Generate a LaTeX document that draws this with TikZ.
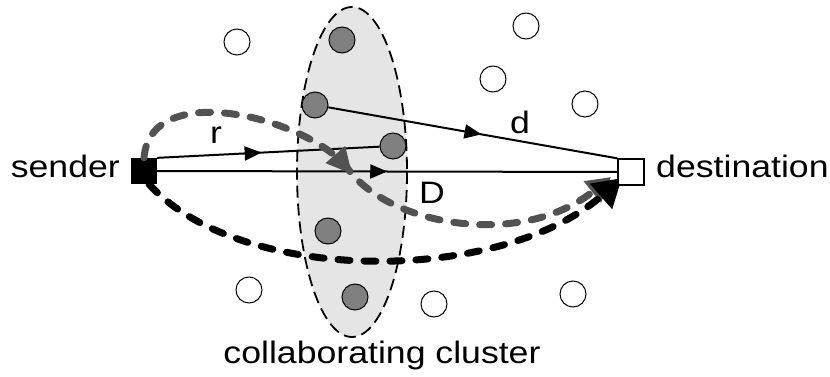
\documentclass[tikz,border=0pt]{standalone}
\usepackage{fontspec}
\setmainfont[FakeStretch=1.15]{Liberation Sans}
\usetikzlibrary{arrows.meta}
\usetikzlibrary{decorations.markings}
\pgfdeclarelayer{bg}
\pgfdeclarelayer{fg}
\pgfsetlayers{bg,main,fg}
\tikzset{
  peer/.style={circle,draw,line width=1pt,fill=white,minimum size=26pt,inner sep=0pt},
  member/.style={peer,fill=black!50},
  endpoint/.style={draw,line width=1.3pt,minimum size=25pt,inner sep=0pt},
  lbl/.style={font=\fontsize{31}{33}\selectfont,inner sep=0pt},
  midarrow/.style={postaction={decorate,decoration={markings,
      mark=at position #1 with {\arrow{Triangle[length=17pt,width=14pt]}}}}},
  route/.style={line width=7pt,dash pattern=on 12pt off 14pt,line cap=round},
}

\begin{document}
\begin{tikzpicture}[x=1pt,y=-1pt]
			\useasboundingbox (0,0) rectangle (830,377);
			\begin{pgfonlayer}{bg}
				\draw[fill=black!10,line width=1.8pt,dash pattern=on 12pt off 6pt] (352,172) ellipse (55 and 165);
			\end{pgfonlayer}
			% end points
			\node[endpoint,fill=black] (sender) at (144,171) {};
			\begin{pgfonlayer}{fg}
				\node[endpoint,fill=white,minimum size=26pt] (dest) at (631,172) {};
			\end{pgfonlayer}
			\node[lbl,anchor=base east] at (120,177) {sender};
			\node[lbl,anchor=base west] at (656,178) {destination};
			\node[lbl,anchor=base] at (382,363) {collaborating cluster};
			% cluster members
			\node[member] (c1) at (342,40) {};
			\node[member] (c2) at (315,105) {};
			\node[member] (c3) at (393,146) {};
			\node[member] (c4) at (328,231) {};
			\node[member] (c5) at (355,297) {};
			% other nodes
			\node[peer] (p1) at (237,42) {};
			\node[peer] (p2) at (526,26) {};
			\node[peer] (p3) at (493,79) {};
			\node[peer] (p4) at (585,104) {};
			\node[peer] (p5) at (249,290) {};
			\node[peer] (p6) at (434,304) {};
			\node[peer] (p7) at (573,294) {};
			% links
			\draw[line width=2pt,midarrow=0.47] (sender.north east) -- (c3);
			\draw[line width=2pt,midarrow=0.5] (sender.east) -- (dest.west);
			\draw[line width=2pt,midarrow=0.53] (c2) -- (dest.north west);
			\node[lbl] at (216,135) {r};
			\node[lbl] at (520,122) {d};
			\node[lbl] at (432,193) {D};
			% routes
			\draw[route,black!68,postaction={decorate,decoration={markings,
					mark=at position 0.47 with {\arrow[solid]{Triangle[length=26pt,width=24pt]}}}},
				-{Triangle[length=24pt,width=26pt]}]
				(sender.north) .. controls (150,80) and (300,115) .. (346,166)
				.. controls (385,225) and (520,250) .. ([xshift=-20pt,yshift=-5pt]dest.center);
			\draw[route,-{Triangle[length=28pt,width=32pt]}]
				([xshift=5pt]sender.south) .. controls (240,285) and (500,285) .. ([xshift=-9pt,yshift=-6pt]dest.center);
		\end{tikzpicture}
\end{document}
